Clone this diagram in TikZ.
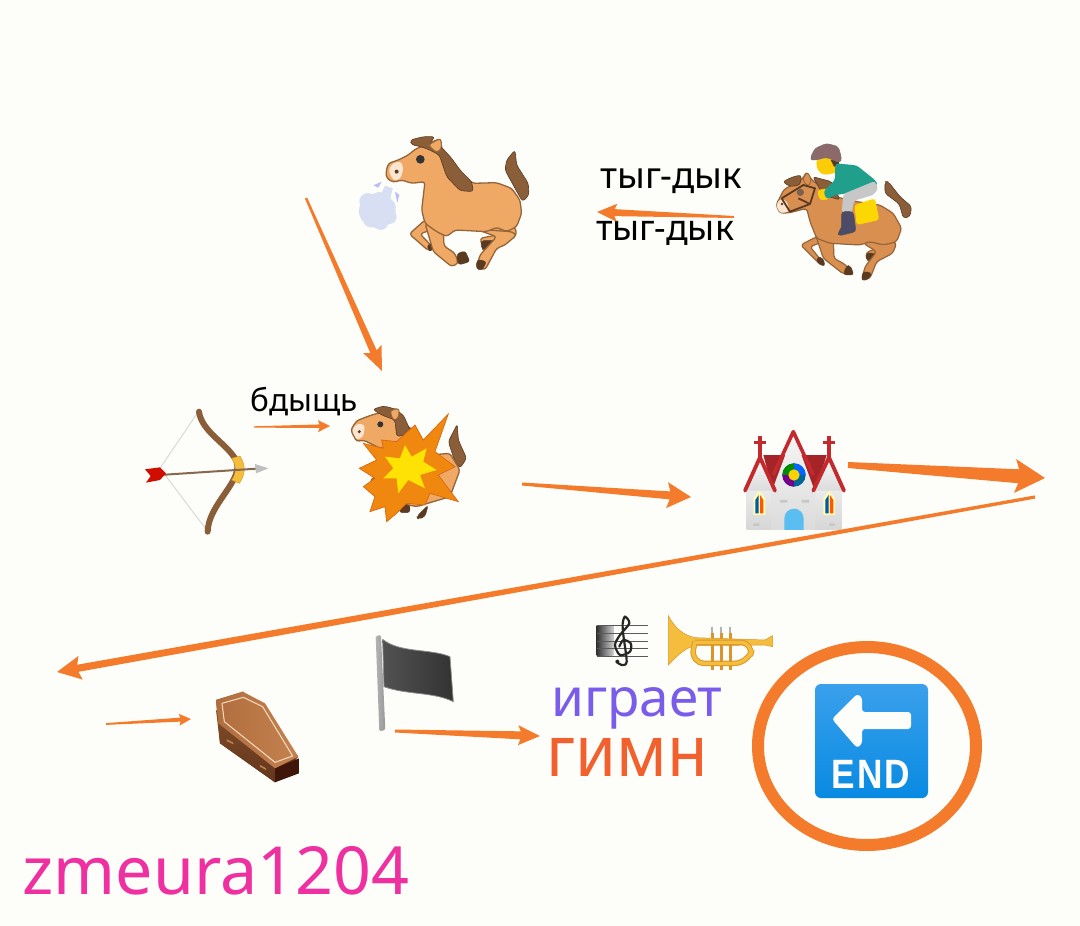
\documentclass[tikz,border=0pt]{standalone}
\usepackage{fontspec}
\setmainfont{Noto Sans}
\newfontfamily\btnfont{Liberation Sans}
\usetikzlibrary{arrows.meta,shadings,calc}
\definecolor{bg}{HTML}{FDFEF9}
\definecolor{org}{HTML}{F47B2B}
\definecolor{hbody}{HTML}{EFA964}
\definecolor{hline}{HTML}{94643A}
\definecolor{hmane}{HTML}{8A5E38}
\definecolor{hdark}{HTML}{5B3A22}
\definecolor{jbody}{HTML}{D98F50}
\definecolor{puff}{HTML}{D8DFF3}
\definecolor{roof}{HTML}{C22A2E}
\definecolor{gold}{HTML}{F4BE3C}
\definecolor{goldd}{HTML}{D9952B}
\definecolor{door}{HTML}{5ABEF0}
\definecolor{cofdark}{HTML}{3E160A}
\definecolor{cofa}{HTML}{804C2A}
\definecolor{cofb}{HTML}{64361C}
\definecolor{cofc}{HTML}{B06E3E}
\definecolor{cofd}{HTML}{C48250}
\definecolor{jacket}{HTML}{20A08C}
\definecolor{blasta}{HTML}{F08810}
\definecolor{blastb}{HTML}{D86810}
\definecolor{btna}{HTML}{3AA0EC}
\definecolor{btnb}{HTML}{088AE2}
\definecolor{txtpurple}{HTML}{7A5CEB}
\definecolor{txtorange}{HTML}{F2602E}
\definecolor{txtpink}{HTML}{EE30A0}
\tikzset{
 part/.style={rounded corners=3pt,line join=round},
 lbl/.style={inner sep=0pt,anchor=center},
 hpart/.style={part,fill=hbody,draw=hline,line width=1.3pt},
 jpart/.style={part,fill=jbody,draw=hline,line width=1.2pt},
 mane/.style={part,fill=hmane,draw=hdark,line width=.6pt},
 hoof/.style={part,fill=hdark,draw=hdark,line width=.5pt},
 z3/.style={shift={(#1)},x=0.3333pt,y=-0.3333pt},
}
% tapered arrow between named coordinates: start, end, tail half-width, neck half-width, head half-width, head length
\newcommand{\taper}[6]{%
 \path let \p1=(#1),\p2=(#2),\n1={atan2(\y2-\y1,\x2-\x1)} in
  [fill=org] ($(#1)+(\n1+90:#3 pt)$) -- ($(#2)+(\n1+180:#6*0.88 pt)+(\n1+90:#4 pt)$)
  -- ($(#2)+(\n1+180:#6 pt)+(\n1+90:#5 pt)$) -- (#2)
  -- ($(#2)+(\n1+180:#6 pt)+(\n1-90:#5 pt)$) -- ($(#2)+(\n1+180:#6*0.88 pt)+(\n1-90:#4 pt)$)
  -- ($(#1)+(\n1-90:#3 pt)$) -- cycle;}
\begin{document}
\begin{tikzpicture}[x=1pt,y=-1pt]
\useasboundingbox (0,0) rectangle (1080,926);
\fill[bg] (0,0) rectangle (1080,926);

% ---- running horse + puff
\begin{scope}[z3={340,120}]
 \fill[puff] (112,272) ellipse[x radius=55,y radius=52];
 \foreach \pa/\pb/\pr in {84/245/26,118/240/24,145/260/22,148/290/22,122/308/22,92/300/22,76/275/20} \fill[puff] (\pa,\pb) circle[radius=\pr];
 \fill[puff] (122,225)--(135,197)--(158,205)--(150,240)--cycle;
 \fill[puff!85!blue] (100,196)--(125,185)--(115,203)--cycle (165,215)--(178,225)--(172,248)--cycle;
 \path[mane] (495,150)--(500,120)--(525,90)--(530,135)--(565,190)--(567,225)--(548,245)--(525,205)--cycle;
 \path[hpart] (400,310)--(525,320)--(530,345)--(505,362)--(470,362)--(428,380)--(420,355)--(470,345)--cycle;
 \path[hoof] (423,362)--(470,362)--(436,388)--(425,388)--cycle;
 \path[hpart] (255,300)--(208,342)--(265,392)--(282,385)--(240,342)--(285,325)--cycle;
 \path[hoof] (262,372)--(280,375)--(276,392)--(265,392)--cycle;
 \path[hpart] (255,310)--(280,395)--(335,440)--(355,430)--(345,400)--(312,378)--(310,330)--cycle;
 \path[hoof] (350,402)--(375,392)--(390,425)--(355,435)--cycle;
 \path[hpart] (420,270)--(440,330)--(515,335)--(530,345)--(495,375)--(470,385)--(435,450)--(410,440)--(420,405)--(470,350)--(400,325)--cycle;
 \path[hoof] (412,418)--(440,425)--(425,452)--(408,445)--cycle;
 \path[hpart] (138,155)--(145,130)--(175,120)--(205,105)--(225,88)--(262,72)--(302,55)--(305,85)--(330,130)--(398,190)--(470,188)--(515,205)--(540,240)--(545,280)--(530,320)--(500,335)--(470,322)--(440,335)--(345,330)--(320,350)--(290,335)--(255,310)--(245,270)--(255,185)--(215,190)--(185,180)--(160,187)--(140,175)--cycle;
 \fill[part,fill=hbody!30!white] (145,150)--(160,128)--(185,125)--(190,150)--(180,178)--(160,182)--cycle;
 \fill[hdark] (170,155) circle[radius=6];
 \fill[black!80] (241,118) circle[radius=13];
 \path[mane] (210,60)--(250,50)--(285,50)--(268,72)--(305,82)--(335,115)--(360,150)--(395,185)--(400,215)--(360,212)--(320,170)--(298,105)--(265,88)--(235,78)--(215,75)--cycle;
 \path[part,fill=hbody,draw=hline,line width=.8pt] (265,75)--(302,55)--(305,85)--(290,98)--cycle;
\end{scope}

% ---- jockey
\begin{scope}[z3={760,130}]
 \path[mane] (375,190)--(375,155)--(385,155)--(420,200)--(455,230)--(450,260)--(430,265)--(418,222)--cycle;
 \path[jpart] (320,300)--(405,330)--(405,355)--(360,372)--(320,390)--(318,368)--(360,350)--cycle;
 \path[hoof] (320,368)--(355,372)--(330,392)--(318,390)--cycle;
 \path[jpart] (170,320)--(122,345)--(175,398)--(195,405)--(150,350)--(190,335)--cycle;
 \path[hoof] (172,380)--(190,385)--(195,410)--(170,398)--cycle;
 \path[jpart] (165,310)--(190,385)--(250,432)--(272,428)--(258,405)--(222,385)--(220,330)--cycle;
 \path[hoof] (258,410)--(270,405)--(282,435)--(250,435)--cycle;
 \path[jpart] (330,310)--(410,340)--(398,370)--(350,395)--(330,445)--(305,452)--(315,410)--(350,365)--(310,340)--cycle;
 \path[hoof] (308,425)--(335,428)--(328,445)--(305,452)--cycle;
 \path[jpart] (48,225)--(72,178)--(125,150)--(140,125)--(155,150)--(225,200)--(290,215)--(360,225)--(400,250)--(425,295)--(410,335)--(370,345)--(330,335)--(300,345)--(210,340)--(170,325)--(150,275)--(140,235)--(90,248)--(60,250)--cycle;
 \fill[part,fill=hbody!30!white] (48,225)--(62,205)--(82,215)--(88,245)--(60,250)--cycle;
 \fill[hdark] (66,222) circle[radius=4];
 \path[mane] (68,155)--(100,140)--(125,135)--(120,165)--(90,170)--cycle (158,140)--(215,155)--(240,210)--(190,195)--cycle;
 \path[part,fill=jbody,draw=hline,line width=.8pt] (127,150)--(142,125)--(155,150)--(145,170)--cycle;
 \draw[hdark,line width=1.8pt,line join=round] (65,205)--(90,245)--(150,222)--(165,175)--(130,165)--(65,205) (115,205)--(150,222);
 \fill[hdark!80] (121,187) circle[radius=11];
 % rider
 \fill[part,fill=yellow!70!orange] (172,180)--(205,175)--(205,210)--(178,210)--cycle;
 \fill[part,fill=yellow!65!orange] (168,90)--(228,78)--(232,128)--(190,135)--(172,120)--cycle;
 \fill[hdark] (212,90)--(235,88)--(238,108)--(222,110)--cycle;
 \path[part,fill=black!50!red!30!gray!90,draw=black!55,line width=.5pt] (150,85)--(165,55)--(200,40)--(235,50)--(245,85)--(240,98)--(200,82)--(160,92)--cycle;
 \fill[part,fill=jacket] (226,100)--(290,106)--(345,150)--(355,165)--(250,192)--(225,195)--(200,208)--(190,185)--(225,150)--cycle;
 \fill[part,fill=black!22] (250,192)--(345,153)--(355,175)--(340,195)--(282,212)--(275,250)--(245,248)--cycle;
 \path[part,fill=black!72!blue!40!gray,draw=black!70,line width=.4pt] (245,245)--(280,245)--(288,305)--(235,318)--(235,305)--(245,295)--cycle;
 \fill[part,fill=yellow!75!orange] (283,225)--(345,205)--(358,270)--(290,285)--cycle;
\end{scope}

% ---- bow
\begin{scope}[z3={130,390}]
 \draw[black!15,line width=1pt] (205,65)--(90,235)--(230,420);
 \draw[hmane,line width=6pt,line cap=round] (207,65) .. controls (215,125) and (290,160) .. (318,210) .. controls (345,270) and (235,340) .. (233,425);
 \path[fill=gold,draw=goldd,line width=.4pt] (305,205)--(330,198) .. controls (350,230) and (345,255) .. (328,280)--(305,270) .. controls (320,250) and (320,225) .. (305,205)--cycle;
 \draw[hmane!70!gray,line width=2pt] (90,255)--(380,236);
 \fill[black!25] (375,222)--(415,235)--(378,250)--cycle;
 \fill[red!80!black!90!orange] (45,238)--(90,232)--(108,250)--(90,270)--(48,278)--(62,258)--cycle;
\end{scope}

% ---- exploding horse
\begin{scope}[z3={130,390}]
 \path[mane] (955,155)--(982,102)--(985,150)--(1010,205)--(990,235)--(975,215)--cycle;
 \path[hpart] (840,200)--(960,190)--(990,240)--(960,320)--(860,350)--(760,330)--(720,270)--cycle;
 \path[hoof] (860,380)--(895,345)--(885,380)--(865,388)--cycle;
 \path[hoof] (810,345)--(840,345)--(840,368)--(808,368)--cycle;
 \path[hpart] (662,120)--(680,92)--(725,75)--(780,60)--(805,55)--(810,90)--(860,130)--(800,170)--(750,175)--(700,150)--(680,155)--cycle;
 \fill[part,fill=hbody!30!white] (665,120)--(682,100)--(705,105)--(700,140)--(680,150)--cycle;
 \fill[hdark] (688,125) circle[radius=5];
 \fill[black!80] (751,103) circle[radius=9];
 \path[mane] (728,58)--(760,48)--(790,55)--(820,75)--(845,130)--(800,140)--(795,90)--(755,75)--cycle;
 \path[part,fill=hbody,draw=hline,line width=.8pt] (780,62)--(808,55)--(805,85)--(790,92)--cycle;
 \path[fill=blasta,draw=blastb,line width=.7pt,line join=miter]
  (855,105)--(880,150)--(955,72)--(915,185)--(975,230)--(925,255)--(985,335)--(900,310)--(885,345)--(830,340)--(800,370)--(770,395)--(765,350)--(720,365)--(735,320)--(700,290)--(735,265)--(688,235)--(740,210)--(700,160)--(760,175)--(755,150)--(800,155)--cycle;
 \fill[yellow!85!orange] (825,165)--(845,200)--(890,175)--(880,215)--(920,240)--(870,255)--(885,295)--(835,270)--(805,310)--(800,265)--(760,265)--(790,235)--(765,200)--(810,205)--cycle;
\end{scope}

% ---- church
\begin{scope}[z3={730,420}]
 \fill[roof!85!black] (100,105)--(290,105)--(255,215)--(130,215)--cycle;
 \shade[top color=black!8,bottom color=black!16] (50,210)--(135,210)--(135,330)--(50,330)--cycle;
 \shade[top color=black!8,bottom color=black!16] (250,210)--(335,210)--(335,330)--(250,330)--cycle;
 \shade[top color=black!4,bottom color=black!14] (125,215)--(190,40)--(255,215)--(255,330)--(125,330)--cycle;
 \shade[top color=black!3,bottom color=black!14] (50,212)--(90,118)--(130,212)--cycle;
 \shade[top color=black!3,bottom color=black!14] (255,212)--(297,118)--(338,212)--cycle;
 \draw[roof,line width=3.6pt,line join=round] (130,165)--(190,35)--(250,165);
 \draw[roof,line width=3.8pt,line join=round,line cap=round] (45,212)--(90,112)--(135,212);
 \draw[roof,line width=3.8pt,line join=round,line cap=round] (250,212)--(297,112)--(342,212);
 \draw[roof,line width=3.4pt] (90,48)--(90,112) (72,68)--(108,68) (297,48)--(297,112) (279,68)--(315,68);
 \fill[teal!80!blue] (192,165) circle[radius=35];
 \fill[blue!60!cyan] (192,165)--(192,130) arc[start angle=270,end angle=360,radius=35]--cycle;
 \fill[green!55!black] (192,165)--(157,165) arc[start angle=180,end angle=270,radius=35]--cycle;
 \fill[blue!55!red] (192,165)--(192,200) arc[start angle=90,end angle=180,radius=35]--cycle;
 \fill[yellow!70!orange] (192,165) circle[radius=17];
 \fill[door] (163,330)--(163,295) arc[start angle=180,end angle=360,radius=29]--(221,330)--cycle;
 \fill[yellow!30] (70,285)--(70,235)--(88,212)--(106,235)--(106,285)--cycle;
 \fill[yellow!30] (280,285)--(280,235)--(297,212)--(315,235)--(315,285)--cycle;
 \fill[teal!70!blue] (76,280)--(76,240)--(86,225)--(86,280)--cycle (286,280)--(286,240)--(296,225)--(296,280)--cycle;
 \fill[orange!70!red] (90,280)--(90,225)--(100,240)--(100,280)--cycle (300,280)--(300,225)--(310,240)--(310,280)--cycle;
 \fill[black!22] (150,240) rectangle (172,248) (215,240) rectangle (238,248) (70,310) rectangle (88,318) (298,310) rectangle (315,318);
\end{scope}

% ---- coffin
\begin{scope}[z3={200,620}]
 \fill[cofb] (48,240)--(60,370)--(225,487)--(295,410)--(130,215)--cycle;
 \fill[cofdark] (225,445)--(297,415)--(297,460)--(225,487)--cycle;
 \shade[top color=cofa,bottom color=cofb] (60,370)--(48,270)--(225,430)--(225,487)--cycle;
 \shade[left color=cofc,right color=cofd] (48,240)--(128,215)--(195,250)--(295,410)--(225,445)--(55,310)--cycle;
 \draw[hbody!40!white,line width=1pt,line join=round] (66,250)--(130,232)--(188,260)--(278,408)--(225,427)--(73,305)--cycle;
 \fill[hmane!50!hbody] (80,358)--(100,368)--(100,373)--(80,363)--cycle (180,435)--(198,445)--(198,450)--(180,440)--cycle;
\end{scope}

% ---- flag
\begin{scope}[z3={200,620}]
 \shade[left color=black!30,right color=black!40,rounded corners=1.5pt] (527,48)--(543,45)--(556,330)--(538,334)--cycle;
 \shade[left color=black!68,right color=black!80,draw=black!45,line width=.8pt,line join=round] (548,58) .. controls (600,100) and (690,85) .. (750,110) -- (760,245) .. controls (700,215) and (620,225) .. (552,200) -- cycle;
\end{scope}

% ---- score
\begin{scope}[z3={580,605}]
 \shade[left color=black!80,right color=black!20] (50,60)--(100,60)--(100,152)--(50,152)--cycle;
 \foreach \yy in {62,85,108,131,154} \draw[black!65,line width=1pt] (50,\yy)--(203,\yy);
 \draw[black!85,line width=2.2pt,line cap=round] plot[smooth] coordinates {(112,172)(125,180)(140,170)(130,90)(128,55)(135,35)(148,55)(120,90)(105,120)(120,150)(150,140)(152,115)(130,105)(118,125)};
 \fill[black!85] (112,170) circle[radius=6];
\end{scope}

% ---- trumpet
\begin{scope}[z3={580,605}]
 \foreach \xx in {397,424,451} {
  \draw[black!30,line width=1.8pt] (\xx,65)--(\xx,95);
  \draw[goldd,line width=3pt] (\xx,85)--(\xx,195);}
 \path[fill=gold,draw=goldd,line width=.5pt] (265,32) .. controls (285,70) and (310,90) .. (345,98) -- (555,105)--(578,92)--(578,125)--(555,120)--(345,122) .. controls (310,130) and (285,160) .. (265,180) -- cycle;
 \draw[goldd,line width=5.5pt,rounded corners=14pt] (345,110) -- (332,175)--(505,175)--(522,112)--(345,112);
 \draw[gold,line width=3.6pt,rounded corners=14pt] (345,110) -- (332,175)--(505,175)--(522,112)--(345,112);
 \foreach \xx in {397,424,451} \draw[goldd,line width=2.6pt] (\xx,120)--(\xx,170);
\end{scope}

% ---- END button
\shade[top color=btna,bottom color=btnb,rounded corners=6pt] (815,684) rectangle (928,798);
\path[fill=bg,rounded corners=3pt] (832,719)--(857,694)--(862,697)--(862,712)--(911,712)--(911,729)--(862,729)--(862,744)--(857,748)--cycle;
\node[lbl,text=bg] (endtxt) at (871,774) {\scalebox{.86}[1]{\btnfont\fontsize{41}{41}\selectfont\bfseries E\kern2.5pt N\kern2.5pt D}};
\draw[org,line width=12pt] (867,746) ellipse[x radius=109,y radius=99];

% ---- texts
\node[lbl,font=\fontsize{36.6}{36}\selectfont] (t1) at (671,181.5) {тыг-дык};
\node[lbl,font=\fontsize{35.7}{36}\selectfont] (t2) at (665,233) {тыг-дык};
\node[lbl,font=\fontsize{31.5}{32}\selectfont] (t3) at (304,402) {бдыщь};
\node[lbl,text=txtpurple,font=\fontsize{53}{53}\selectfont] (t4) at (637,708) {играет};
\node[lbl,text=txtorange] (t5) at (627,757) {\scalebox{.93}[1]{\fontsize{71}{71}\selectfont гимн}};
\node[lbl,text=txtpink,font=\fontsize{66.3}{66}\selectfont] (t6) at (216,871) {zmeura1204};

% ---- arrows
\coordinate (a1s) at (734,217); \coordinate (a1e) at (597,212);
\coordinate (a2s) at (306,198); \coordinate (a2e) at (382,371);
\coordinate (a3s) at (254,427); \coordinate (a3e) at (330,426);
\coordinate (a4s) at (522,484); \coordinate (a4e) at (691,497);
\coordinate (a5s) at (848,465); \coordinate (a5e) at (1045,478);
\coordinate (a6s) at (1035,497); \coordinate (a6e) at (57,672);
\coordinate (a7s) at (106,724); \coordinate (a7e) at (191,719);
\coordinate (a8s) at (395,731); \coordinate (a8e) at (540,736);
\taper{a1s}{a1e}{1}{3.5}{9}{20}
\taper{a2s}{a2e}{1.2}{3.5}{10}{24}
\taper{a3s}{a3e}{.7}{1.7}{6}{12}
\taper{a4s}{a4e}{1.5}{4}{13}{24}
\taper{a5s}{a5e}{3}{7}{17}{30}
\taper{a6s}{a6e}{1.6}{3.6}{12}{24}
\taper{a7s}{a7e}{.9}{2}{6}{12}
\taper{a8s}{a8e}{1.5}{4}{10}{22}
\end{tikzpicture}
\end{document}
